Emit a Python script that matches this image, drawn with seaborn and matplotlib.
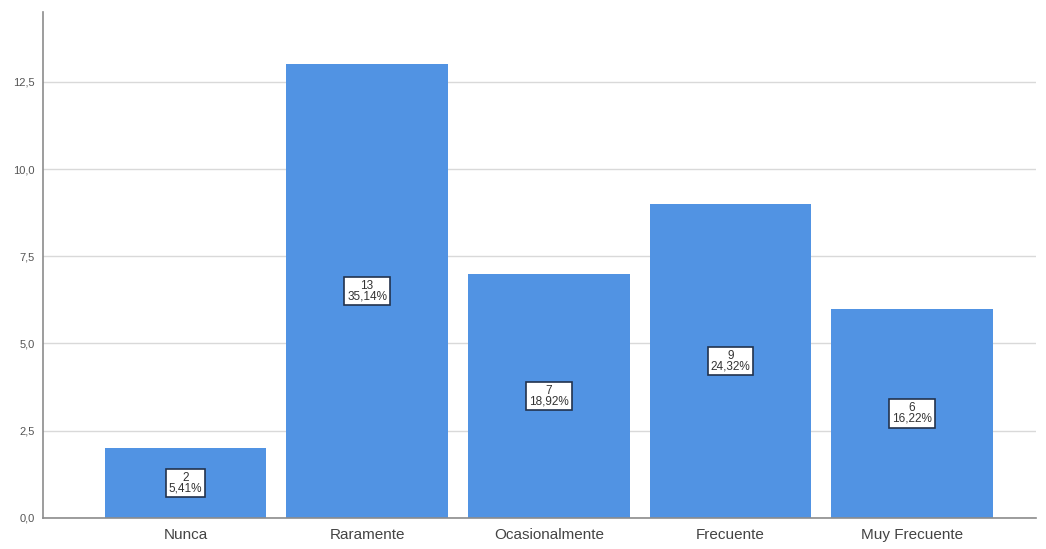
import matplotlib
matplotlib.use("Agg")
import matplotlib.pyplot as plt
import matplotlib.ticker as mticker
import seaborn as sns
import pandas as pd

categories = ["Nunca", "Raramente", "Ocasionalmente", "Frecuente", "Muy Frecuente"]
counts = [2, 13, 7, 9, 6]
percents = ["5,41%", "35,14%", "18,92%", "24,32%", "16,22%"]

df = pd.DataFrame({"categoria": categories, "frecuencia": counts})

sns.set_style("white")
plt.rcParams["font.family"] = ["Liberation Sans", "DejaVu Sans"]

fig = plt.figure(figsize=(10.46, 5.49), dpi=100)
ax = fig.add_axes([0.0411, 0.0565, 0.949, 0.9217])

sns.barplot(data=df, x="categoria", y="frecuencia", order=categories,
            color="#5193E3", saturation=1, width=0.89, ax=ax, zorder=2,
            edgecolor="none")

ax.set_xlim(-0.784, 4.68)
ax.set_ylim(0, 14.5)
ax.yaxis.set_major_locator(mticker.MultipleLocator(2.5))
ax.yaxis.set_major_formatter(mticker.FuncFormatter(lambda v, p: f"{v:.1f}".replace(".", ",")))
ax.grid(axis="y", color="#d9d9d9", linewidth=1.0, zorder=0)
ax.set_axisbelow(True)

for s in ["top", "right"]:
    ax.spines[s].set_visible(False)
for s in ["left", "bottom"]:
    ax.spines[s].set_color("#8c8c8c")
    ax.spines[s].set_linewidth(1.2)

ax.tick_params(axis="y", length=0, labelsize=8, labelcolor="#555555", pad=6)
ax.tick_params(axis="x", length=0, labelsize=11, labelcolor="#444444", pad=7)
ax.set_xlabel("")
ax.set_ylabel("")

for i, (c, p) in enumerate(zip(counts, percents)):
    ax.text(i, c / 2, f"{c}\n{p}", ha="center", va="center", fontsize=8.5,
            color="#333333", linespacing=0.85, zorder=4,
            bbox=dict(boxstyle="square,pad=0.25", facecolor="white",
                      edgecolor="#22324d", linewidth=1.2))

fig.savefig("out.png", dpi=100)
